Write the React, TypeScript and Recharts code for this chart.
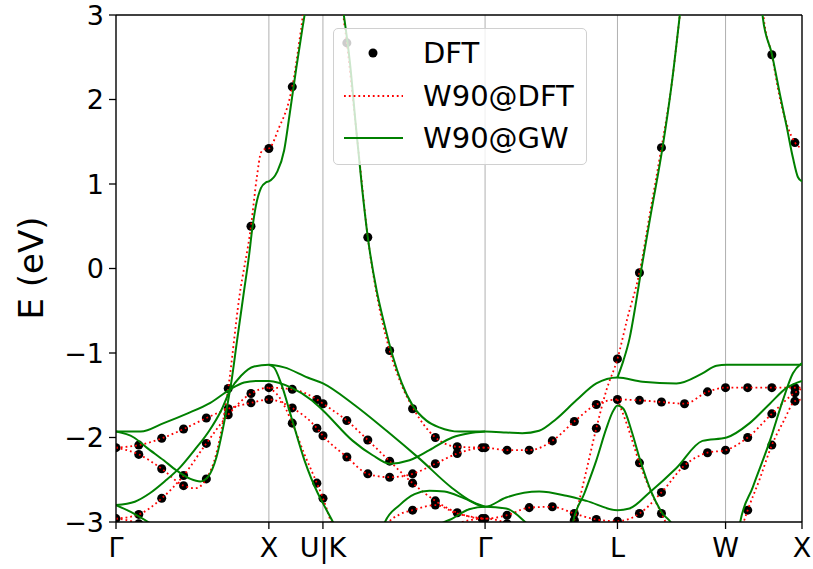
import {
  ComposedChart,
  Line,
  Scatter,
  XAxis,
  YAxis,
  CartesianGrid,
  ReferenceLine,
  Legend,
} from 'recharts';

// k-path (2pi/a units): Γ-X-U|K-Γ-L-W-X
const kTicks = [0, 1, 1.3536, 2.4142, 3.2802, 3.9873, 4.4873];
const kLabels = ['Γ', 'X', 'U|K', 'Γ', 'L', 'W', 'X'];
const eTicks = [-3, -2, -1, 0, 1, 2, 3];

type Pt = [number, number];

// DFT eigenvalues (k, E)
const dftPoints: Pt[] = [
  [0, -2.12], [0, -2.96],
  [0.149, -2.09], [0.149, -2.2], [0.149, -2.91], [0.149, -3.02],
  [0.299, -2.01], [0.299, -2.37], [0.299, -2.72],
  [0.442, -1.9], [0.442, -2.45], [0.442, -2.57],
  [0.591, -1.77], [0.591, -2.07], [0.591, -2.49],
  [0.734, -1.42], [0.734, -1.66], [0.734, -1.73],
  [0.883, 0.5], [0.883, -1.48], [0.883, -1.59],
  [1.0, 1.42], [1.0, -1.41], [1.0, -1.55],
  [1.153, 2.15], [1.153, -1.43], [1.153, -1.65], [1.153, -1.83],
  [1.314, -1.55], [1.314, -1.89], [1.314, -2.54],
  [1.354, -1.6], [1.354, -1.98], [1.354, -2.72],
  [1.51, 2.67], [1.51, -1.8], [1.51, -2.23],
  [1.647, 0.37], [1.647, -2.03], [1.647, -2.43],
  [1.79, -0.97], [1.79, -2.28], [1.79, -2.47],
  [1.94, -1.66], [1.94, -2.43], [1.94, -2.54], [1.94, -2.86],
  [2.089, -2.0], [2.089, -2.31], [2.089, -2.75], [2.089, -2.8],
  [2.232, -2.11], [2.232, -2.19], [2.232, -2.89],
  [2.395, -2.12], [2.395, -2.96],
  [2.414, -2.12], [2.414, -2.96],
  [2.558, -2.15], [2.558, -2.92], [2.558, -3.02],
  [2.703, -2.15], [2.703, -2.83],
  [2.854, -2.04], [2.854, -2.82],
  [2.998, -1.81], [2.998, -2.9], [2.998, -2.98],
  [3.142, -1.61], [3.142, -1.89], [3.142, -2.97],
  [3.28, -1.07], [3.28, -1.55], [3.28, -2.99],
  [3.424, -0.05], [3.424, -1.56], [3.424, -2.3], [3.424, -2.9],
  [3.568, 1.43], [3.568, -1.58], [3.568, -2.65], [3.568, -2.9],
  [3.719, -1.6], [3.719, -2.33],
  [3.869, -1.46], [3.869, -2.18],
  [3.987, -1.41], [3.987, -2.15],
  [4.132, -1.41], [4.132, -2.0], [4.132, -2.86],
  [4.29, 2.53], [4.29, -1.41], [4.29, -1.72], [4.29, -2.09],
  [4.441, 1.49], [4.441, -1.41], [4.441, -1.47], [4.441, -1.57],
];

// Wannier interpolation of DFT bands
const dftBandA: Pt[] = [
  [0, -2.12], [0.149, -2.09], [0.299, -2.01], [0.442, -1.9], [0.591, -1.77], [0.734, -1.66],
  [0.883, -1.59], [1.0, -1.55], [1.153, -1.65], [1.314, -1.89], [1.354, -1.98], [1.51, -2.23],
  [1.647, -2.43], [1.79, -2.47], [1.94, -2.43], [2.089, -2.31], [2.232, -2.19], [2.414, -2.12],
  [2.558, -2.15], [2.703, -2.15], [2.854, -2.04], [2.998, -1.81], [3.142, -1.61], [3.28, -1.55],
  [3.424, -1.56], [3.568, -1.58], [3.719, -1.6], [3.869, -1.46], [3.987, -1.41], [4.132, -1.41],
  [4.29, -1.41], [4.441, -1.41], [4.487, -1.41],
];
const dftBandB: Pt[] = [
  [0, -2.96], [0.149, -2.91], [0.299, -2.72], [0.442, -2.45], [0.591, -2.07], [0.734, -1.73],
  [0.883, -1.48], [1.0, -1.41], [1.153, -1.43], [1.314, -1.55], [1.354, -1.6], [1.51, -1.8],
  [1.647, -2.03], [1.79, -2.28], [1.94, -2.54], [2.089, -2.75], [2.232, -2.89], [2.414, -2.96],
  [2.558, -2.92], [2.703, -2.83], [2.854, -2.82], [2.998, -2.9], [3.142, -2.97], [3.28, -2.99],
  [3.424, -2.9], [3.568, -2.65], [3.719, -2.33], [3.869, -2.18], [3.987, -2.15], [4.132, -2.0],
  [4.29, -1.72], [4.441, -1.47], [4.487, -1.42],
];
const dftBandSp1: Pt[] = [
  [0, -2.12], [0.149, -2.2], [0.299, -2.37], [0.442, -2.57], [0.519, -2.6], [0.591, -2.49],
  [0.656, -2.19], [0.701, -1.8], [0.734, -1.42], [0.805, -0.36], [0.883, 0.5], [0.922, 1.09],
  [0.948, 1.37], [0.968, 1.41], [1.0, 1.42], [1.067, 1.67], [1.133, 1.99], [1.153, 2.15],
  [1.2, 2.7], [1.22, 2.97], [1.235, 3.3],
];
const dftBandLow1: Pt[] = [[0, -2.96], [0.149, -3.02], [0.25, -3.2]];
const dftBandXU: Pt[] = [
  [1.0, -1.41], [1.067, -1.52], [1.153, -1.83], [1.233, -2.2], [1.314, -2.54], [1.354, -2.72],
  [1.406, -3.0], [1.44, -3.2],
];
const dftBandSp2: Pt[] = [
  [1.47, 3.3], [1.49, 2.95], [1.51, 2.67], [1.543, 2.12], [1.595, 1.24], [1.647, 0.37],
  [1.705, -0.3], [1.79, -0.97], [1.868, -1.38], [1.946, -1.66], [2.018, -1.86], [2.089, -2.0],
  [2.232, -2.11], [2.414, -2.12],
];
const dftBandKG: Pt[] = [
  [1.72, -3.3], [1.77, -3.04], [1.855, -2.91], [1.94, -2.86], [2.089, -2.8], [2.232, -2.9], [2.414, -2.96],
];
const dftBandLow2: Pt[] = [[2.13, -3.15], [2.232, -3.02], [2.414, -2.96], [2.558, -3.02], [2.65, -3.2]];
const dftBandSp3: Pt[] = [
  [2.96, -3.2], [2.998, -2.98], [3.064, -2.49], [3.142, -1.89], [3.208, -1.44], [3.28, -1.07],
  [3.345, -0.59], [3.424, -0.05], [3.496, 0.69], [3.568, 1.43], [3.634, 2.17], [3.686, 2.97], [3.7, 3.2],
];
const dftBandLW: Pt[] = [
  [3.28, -1.55], [3.345, -1.86], [3.424, -2.3], [3.496, -2.63], [3.568, -2.9], [3.621, -3.1],
];
const dftBandWX: Pt[] = [
  [4.07, -3.2], [4.132, -2.86], [4.211, -2.49], [4.29, -2.09], [4.369, -1.8], [4.441, -1.57], [4.487, -1.55],
];
const dftBandSp4: Pt[] = [
  [4.225, 3.2], [4.237, 2.97], [4.29, 2.53], [4.342, 2.02], [4.395, 1.67], [4.441, 1.49], [4.487, 1.42],
];

// Wannier interpolation of GW bands
const gwBandA: Pt[] = [
  [0, -1.93], [0.162, -1.93], [0.312, -1.83], [0.461, -1.72], [0.617, -1.59], [0.747, -1.43],
  [0.838, -1.35], [0.92, -1.33], [1.0, -1.33], [1.147, -1.41], [1.28, -1.56], [1.354, -1.68],
  [1.549, -2.04], [1.679, -2.21], [1.79, -2.31], [1.92, -2.27], [2.05, -2.15], [2.2, -2.0],
  [2.31, -1.95], [2.414, -1.93],
];
const gwBandSp1: Pt[] = [
  [0, -1.93], [0.117, -2.0], [0.201, -2.12], [0.312, -2.27], [0.396, -2.39], [0.487, -2.49],
  [0.552, -2.52], [0.604, -2.46], [0.656, -2.24], [0.701, -1.88], [0.734, -1.56], [0.753, -1.36],
  [0.792, -0.85], [0.838, -0.26], [0.87, 0.15], [0.89, 0.45], [0.916, 0.75], [0.948, 0.95],
  [0.981, 1.02], [1.0, 1.03], [1.053, 1.14], [1.1, 1.4], [1.133, 1.79], [1.18, 2.38],
  [1.22, 2.85], [1.24, 3.08], [1.26, 3.4],
];
const gwBandB: Pt[] = [
  [0, -2.8], [0.123, -2.76], [0.221, -2.66], [0.318, -2.52], [0.416, -2.36], [0.513, -2.15],
  [0.61, -1.92], [0.688, -1.68], [0.747, -1.44], [0.818, -1.27], [0.903, -1.16], [1.0, -1.14],
  [1.1, -1.17], [1.253, -1.29], [1.354, -1.36], [1.549, -1.6], [1.77, -1.92], [1.985, -2.25],
  [2.2, -2.6], [2.31, -2.74], [2.414, -2.82],
];
const gwBandLow1: Pt[] = [[0, -2.8], [0.117, -2.9], [0.227, -3.02], [0.318, -3.14]];
const gwBandXU: Pt[] = [
  [1.0, -1.14], [1.033, -1.17], [1.08, -1.36], [1.147, -1.76], [1.233, -2.27], [1.32, -2.66],
  [1.354, -2.78], [1.413, -2.98], [1.439, -3.08], [1.47, -3.3],
];
const gwBandSp2: Pt[] = [
  [1.47, 3.25], [1.491, 2.99], [1.53, 2.44], [1.569, 1.69], [1.608, 0.98], [1.647, 0.37],
  [1.705, -0.26], [1.757, -0.67], [1.809, -1.03], [1.868, -1.35], [1.94, -1.62], [2.031, -1.8],
  [2.115, -1.88], [2.245, -1.93], [2.414, -1.93], [2.552, -1.94], [2.657, -1.95], [2.768, -1.92],
  [2.88, -1.78], [3.011, -1.56], [3.142, -1.36], [3.28, -1.29], [3.444, -1.34], [3.666, -1.36],
  [3.836, -1.24], [3.928, -1.15], [3.994, -1.14], [4.145, -1.14], [4.309, -1.14], [4.487, -1.14],
];
const gwBandC: Pt[] = [
  [1.72, -3.3], [1.757, -3.01], [1.855, -2.8], [1.953, -2.67], [2.05, -2.63], [2.148, -2.64],
  [2.278, -2.72], [2.414, -2.82], [2.552, -2.71], [2.768, -2.64], [2.946, -2.69], [3.077, -2.75],
  [3.28, -2.86], [3.359, -2.84], [3.49, -2.65], [3.666, -2.36], [3.836, -2.04], [3.994, -2.0],
  [4.145, -1.83], [4.277, -1.6], [4.388, -1.41], [4.487, -1.33],
];
const gwBandLow2: Pt[] = [
  [2.06, -3.2], [2.115, -3.04], [2.2, -2.96], [2.31, -2.85], [2.414, -2.82], [2.552, -2.84],
  [2.683, -3.01], [2.736, -3.1],
];
const gwBandL: Pt[] = [
  [2.97, -3.2], [2.985, -3.04], [3.064, -2.66], [3.142, -2.27], [3.208, -1.89], [3.248, -1.7],
  [3.28, -1.62], [3.319, -1.66], [3.372, -1.92], [3.424, -2.24], [3.503, -2.65], [3.575, -2.9],
  [3.64, -3.04], [3.66, -3.2],
];
const gwBandSp3: Pt[] = [
  [3.28, -1.29], [3.319, -1.09], [3.359, -0.83], [3.398, -0.44], [3.437, 0.0], [3.503, 0.69],
  [3.575, 1.43], [3.634, 2.17], [3.686, 2.97], [3.7, 3.2],
];
const gwBandWX: Pt[] = [
  [4.06, -3.3], [4.079, -3.04], [4.165, -2.59], [4.277, -2.04], [4.362, -1.56], [4.428, -1.24], [4.487, -1.12],
];
const gwBandSp4: Pt[] = [
  [4.225, 3.2], [4.231, 2.97], [4.29, 2.54], [4.342, 2.07], [4.388, 1.67], [4.428, 1.31], [4.461, 1.08], [4.487, 1.03],
];

const dftBands = [
  dftBandA, dftBandB, dftBandSp1, dftBandLow1, dftBandXU, dftBandSp2, dftBandKG,
  dftBandLow2, dftBandSp3, dftBandLW, dftBandWX, dftBandSp4,
];
const gwBands = [
  gwBandA, gwBandSp1, gwBandB, gwBandLow1, gwBandXU, gwBandSp2, gwBandC,
  gwBandLow2, gwBandL, gwBandSp3, gwBandWX, gwBandSp4,
];

const toRows = (pts: Pt[]) => pts.map(([k, E]) => ({ k, E }));

const FONT = 'DejaVu Sans';

function kLabel(v: number) {
  const i = kTicks.findIndex((t) => Math.abs(t - v) < 1e-3);
  return i >= 0 ? kLabels[i] : '';
}

function YLabel() {
  return (
    <text
      x={33}
      y={268}
      transform="rotate(-90 33 268)"
      textAnchor="middle"
      dominantBaseline="middle"
      fontSize={34}
      fontFamily={FONT}
      fill="#000"
    >
      E (eV)
    </text>
  );
}

function LegendBox() {
  const row = (top: number, marker: React.ReactNode, text: string) => (
    <div style={{ position: 'absolute', left: 0, top: top - 17, height: 34, width: '100%', display: 'flex', alignItems: 'center' }}>
      <svg width={80} height={34} style={{ flex: 'none' }}>{marker}</svg>
      <span style={{ marginLeft: 9, lineHeight: '34px' }}>{text}</span>
    </div>
  );
  return (
    <div
      style={{
        position: 'relative',
        width: 254,
        height: 137,
        boxSizing: 'border-box',
        background: 'rgba(255,255,255,0.8)',
        border: '1px solid #d0d0d0',
        borderRadius: 5,
        fontFamily: FONT,
        fontSize: 29,
        color: '#000',
      }}
    >
      {row(24, <circle cx={39} cy={17} r={4.5} fill="#000" />, 'DFT')}
      {row(67, <line x1={10} x2={69} y1={17} y2={17} stroke="#ff0000" strokeWidth={1.8} strokeDasharray="1.8 3" />, 'W90@DFT')}
      {row(109, <line x1={10} x2={69} y1={17} y2={17} stroke="#008000" strokeWidth={2} />, 'W90@GW')}
    </div>
  );
}

export default function App() {
  return (
    <div style={{ position: 'absolute', left: 0, top: 0, width: 813, height: 569, background: '#fff' }}>
      <ComposedChart width={813} height={569} margin={{ top: 15, right: 11, bottom: 0, left: 0 }}>
        <CartesianGrid horizontal={false} stroke="#b0b0b0" strokeWidth={1} />
        <XAxis
          type="number"
          dataKey="k"
          domain={[0, 4.4873]}
          ticks={kTicks}
          interval={0}
          allowDataOverflow
          tickFormatter={kLabel}
          height={47}
          tickSize={7}
          tickMargin={9}
          stroke="#000"
          strokeWidth={1.3}
          tick={{ fontSize: 27, fontFamily: FONT, fill: '#000' }}
        />
        <YAxis
          type="number"
          dataKey="E"
          domain={[-3, 3]}
          ticks={eTicks}
          interval={0}
          allowDataOverflow
          tickFormatter={(v: number) => String(v).replace('-', '\u2212')}
          width={116}
          tickSize={7}
          tickMargin={5}
          stroke="#000"
          strokeWidth={1.3}
          tick={{ fontSize: 27, fontFamily: FONT, fill: '#000' }}
          label={<YLabel />}
        />
        <ReferenceLine y={3} stroke="#000" strokeWidth={1.3} />
        <ReferenceLine x={4.4873} stroke="#000" strokeWidth={1.3} />
        {/* DFT points sit below the interpolated lines */}
        <Scatter
          name="DFT"
          data={toRows(dftPoints)}
          fill="#000"
          zIndex={100}
          isAnimationActive={false}
        />
        {dftBands.map((b, i) => (
          <Line
            key={`dft-${i}`}
            data={toRows(b)}
            dataKey="E"
            type="monotone"
            stroke="#ff0000"
            strokeWidth={1.8}
            strokeDasharray="1.8 3"
            dot={false}
            activeDot={false}
            isAnimationActive={false}
          />
        ))}
        {gwBands.map((b, i) => (
          <Line
            key={`gw-${i}`}
            data={toRows(b)}
            dataKey="E"
            type="monotone"
            stroke="#008000"
            strokeWidth={2}
            dot={false}
            activeDot={false}
            isAnimationActive={false}
          />
        ))}
        <Legend
          layout="vertical"
          align="center"
          verticalAlign="middle"
          content={() => <LegendBox />}
          wrapperStyle={{ left: 333, top: 28, width: 254, height: 137 }}
        />
      </ComposedChart>
    </div>
  );
}
